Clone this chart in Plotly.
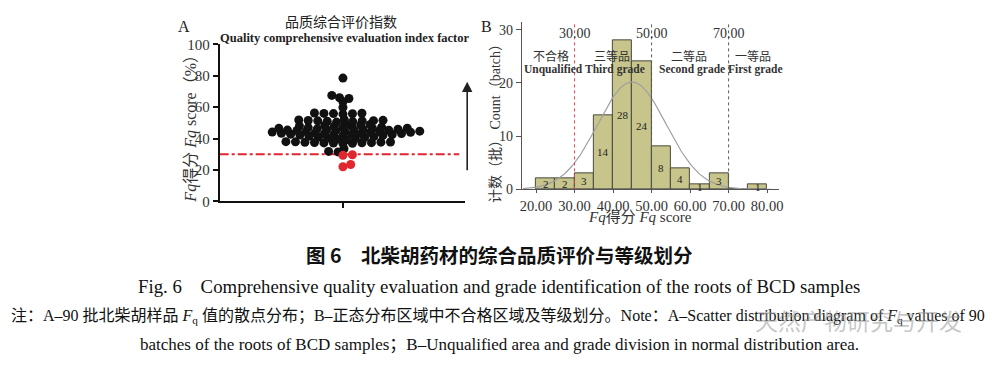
import numpy as np
import plotly.graph_objects as go

# ---------------- data ----------------
# Panel A: Fq scores of 90 batches
fq_scores = [
    22.0, 23.5, 29.3, 29.7,
    31.5, 31.8, 33.5,
    36.8, 37.0, 37.1, 37.2, 37.3, 37.4, 37.5, 37.6, 37.7, 37.8, 37.9, 38.0,
    39.2, 39.6, 40.0, 40.3, 40.6, 40.9, 41.2, 41.5, 41.8,
    42.0, 42.2, 42.4, 42.5, 42.6, 42.8, 43.0, 43.1, 43.2, 43.4, 43.6, 43.8,
    44.0, 44.1, 44.3, 44.4, 44.5, 44.7, 44.9, 45.0, 45.2, 45.3, 45.4, 45.6, 45.8,
    46.0, 46.2, 46.4, 46.5, 46.6, 46.8, 47.0, 47.2, 47.5, 47.8, 48.0, 48.3, 48.6,
    49.0, 49.3,
    50.5, 50.8, 51.0, 51.2, 51.3, 51.4, 51.5, 51.6, 51.8, 52.0,
    55.6, 55.8, 55.9, 56.0, 56.1, 56.3,
    59.8, 63.5, 65.5, 66.0, 67.5, 78.5,
]
unqualified_cutoff = 30
a_yticks = [0, 20, 40, 60, 80, 100]

# Panel B: histogram of Fq scores
bin_left = [20, 25, 30, 35, 40, 45, 50, 55, 60, 65, 70, 75]
bin_counts = [2, 2, 3, 14, 28, 24, 8, 4, 1, 3, 0, 1]
bin_width = 5
fit_mean = 44.9
fit_sd = 8.9
b_xticks = [20, 30, 40, 50, 60, 70, 80]
b_yticks = [0, 10, 20, 30]
grade_cutoffs = [30, 50, 70]
grade_cn = ["不合格", "三等品", "二等品", "一等品"]
grade_en = ["Unqualified", "Third grade", "Second grade", "First grade"]

# ---------------- helpers ----------------
W, H = 1000, 373


def px(x):
    return x / W


def py(y):
    return 1 - y / H


SERIF = "Liberation Serif, 'Noto Sans CJK SC', serif"
SANS_CJK = "'Noto Sans CJK SC', sans-serif"

# Panel A geometry (pixels)
A_left, A_right = 219, 466
A_center = 343
A_top, A_bottom = 38, 202

# Panel B geometry
B_left, B_right = 523, 782
B_top, B_bottom = 15, 189.5
b_xrange = [16.32, 83.16]
b_px_per_unit_y = 5.56
b_yrange = [0, (B_bottom - B_top) / b_px_per_unit_y]


def dot_layout(values, ppu, dx_min, dy_min):
    """Prism-like scatter dot layout: dots side by side, overlapping rows allowed."""
    vals = np.asarray(values, dtype=float)
    order = np.argsort(vals, kind="stable")
    placed = []
    xs = np.zeros(len(vals))

    def ok(c, y):
        for xj, yj in placed:
            if ((c - xj) / dx_min) ** 2 + ((y - yj) / dy_min) ** 2 < 1 - 1e-9:
                return False
        return True

    for i in order:
        y = vals[i] * ppu
        cands = [0.0]
        for xj, yj in placed:
            t = (y - yj) / dy_min
            if abs(t) < 1:
                d = dx_min * np.sqrt(1 - t * t)
                cands += [xj + d, xj - d]
        cands.sort(key=lambda c: (round(abs(c), 6), -c))
        for c in cands:
            if ok(c, y):
                xs[i] = c
                break
        placed.append((xs[i], y))
    return xs


fig = go.Figure()

# ---------------- Panel A ----------------
a_ppu = (A_bottom - A_top) / 100.0
offs = dot_layout(fq_scores, a_ppu, 9.6, 4.2)
vals = np.asarray(fq_scores)
is_red = vals < unqualified_cutoff
fig.add_trace(go.Scatter(
    x=offs[~is_red], y=vals[~is_red], mode="markers",
    marker=dict(size=9, color="#111111", line=dict(width=0)),
    xaxis="x", yaxis="y", showlegend=False, hoverinfo="y"))
fig.add_trace(go.Scatter(
    x=offs[is_red], y=vals[is_red], mode="markers",
    marker=dict(size=9, color="#e0262f", line=dict(width=0)),
    xaxis="x", yaxis="y", showlegend=False, hoverinfo="y"))

# ---------------- Panel B ----------------
centers = [l + bin_width / 2 for l in bin_left]
fig.add_trace(go.Bar(
    x=centers, y=bin_counts, width=bin_width,
    marker=dict(color="rgb(199,197,140)", line=dict(color="#4a4a40", width=1)),
    xaxis="x2", yaxis="y2", showlegend=False, hoverinfo="x+y"))

xx = np.linspace(16.6, 81.0, 300)
yy = len(fq_scores) * bin_width / (fit_sd * np.sqrt(2 * np.pi)) * np.exp(-0.5 * ((xx - fit_mean) / fit_sd) ** 2)
fig.add_trace(go.Scatter(
    x=xx, y=yy, mode="lines", line=dict(color="rgb(160,160,160)", width=1.2),
    xaxis="x2", yaxis="y2", showlegend=False, hoverinfo="skip"))

shapes = []
annotations = []


def note(**kw):
    kw.setdefault("showarrow", False)
    kw.setdefault("xanchor", "center")
    kw.setdefault("yanchor", "middle")
    annotations.append(kw)


# red dash-dot cutoff line in A
shapes.append(dict(type="line", xref="x", yref="y", x0=A_left - A_center, x1=460 - A_center,
                   y0=unqualified_cutoff, y1=unqualified_cutoff,
                   line=dict(color="#e0262f", width=2, dash="dashdot"), layer="below"))

# grade cut-off lines in B
for c in grade_cutoffs:
    col = "rgb(225,70,80)" if c == unqualified_cutoff else "rgb(90,90,90)"
    shapes.append(dict(type="line", xref="x2", yref="y2", x0=c, x1=c, y0=0, y1=b_yrange[1],
                       line=dict(color=col, width=1, dash="dot")))
    note(x=c, y=py(27), xref="x2", yref="paper", text=f"{c:.2f}",
         font=dict(family=SERIF, size=14, color="#333"))

# bar value labels
for cx, n in zip(centers, bin_counts):
    if n > 0:
        note(x=cx, y=n / 2, xref="x2", yref="y2", text=str(n),
             font=dict(family=SERIF, size=11, color="#222"))

# grade labels
bounds = [b_xrange[0] + 2] + grade_cutoffs + [b_xrange[1]]
for i in range(len(grade_cn)):
    mid = (bounds[i] + bounds[i + 1]) / 2
    note(x=mid - 0.3, y=py(50), xref="x2", yref="paper", text=grade_cn[i],
         font=dict(family=SANS_CJK, size=12, color="#333"))
    note(x=mid + 0.5, y=py(64), xref="x2", yref="paper", text=f"<b>{grade_en[i]}</b>",
         font=dict(family=SERIF, size=11.5, color="#333"))

# panel letters and titles
note(x=px(183), y=py(19), xref="paper", yref="paper", text="A",
     font=dict(family=SERIF, size=16, color="#222"))
note(x=px(487), y=py(19), xref="paper", yref="paper", text="B",
     font=dict(family=SERIF, size=16, color="#222"))
note(x=px(341), y=py(14), xref="paper", yref="paper", text="品质综合评价指数",
     font=dict(family=SANS_CJK, size=14, color="#222"))
note(x=px(345), y=py(31), xref="paper", yref="paper",
     text="<b>Quality comprehensive evaluation index factor</b>",
     font=dict(family=SERIF, size=12.5, color="#222"))
note(x=px(190), y=py(122), xref="paper", yref="paper", textangle=-90,
     text="<i>Fq</i>得分 <i>Fq</i> score（%）",
     font=dict(family=SERIF, size=16, color="#333"))
note(x=px(497), y=py(117), xref="paper", yref="paper", textangle=-90,
     text="计数（批） Count（batch）",
     font=dict(family=SERIF, size=14, color="#333"))
note(x=px(642), y=py(218), xref="paper", yref="paper",
     text="<i>Fq</i>得分 <i>Fq</i> score",
     font=dict(family=SERIF, size=15, color="#333"))
# arrow
annotations.append(dict(x=px(468), y=py(77), xref="paper", yref="paper", text="", showarrow=True,
                        ax=0, ay=90, arrowhead=2, arrowsize=1.3,
                        arrowwidth=1.6, arrowcolor="#222"))
# captions
note(x=px(500), y=py(258), xref="paper", yref="paper",
     text="<b>图 6　北柴胡药材的综合品质评价与等级划分</b>",
     font=dict(family=SANS_CJK, size=19.5, color="#111"))
note(x=px(500), y=py(291), xref="paper", yref="paper",
     text="Fig. 6　Comprehensive quality evaluation and grade identification of the roots of BCD samples",
     font=dict(family=SERIF, size=18.8, color="#111"))
note(x=px(499), y=py(322), xref="paper", yref="paper",
     text="注：A–90 批北柴胡样品 <i>F</i><sub>q</sub> 值的散点分布；B–正态分布区域中不合格区域及等级划分。"
          "Note：A–Scatter distribution diagram of <i>F</i><sub>q</sub> values of 90",
     font=dict(family=SERIF, size=16, color="#111"))
note(x=px(500), y=py(352), xref="paper", yref="paper",
     text="batches of the roots of BCD samples；B–Unqualified area and grade division in normal distribution area.",
     font=dict(family=SERIF, size=17, color="#111"))
# watermark
note(x=px(862), y=py(326), xref="paper", yref="paper", text="天然产物研究与开发",
     font=dict(family=SANS_CJK, size=23, color="rgba(150,150,150,0.55)"))

fig.update_layout(
    width=W, height=H, margin=dict(l=0, r=0, t=0, b=0),
    paper_bgcolor="white", plot_bgcolor="white",
    shapes=shapes, annotations=annotations, bargap=0,
    xaxis=dict(domain=[px(A_left), px(A_right)], range=[A_left - A_center, A_right - A_center],
               showgrid=False, zeroline=False, showline=True, linecolor="#111", linewidth=2,
               tickvals=[0], ticktext=[""], ticks="outside", ticklen=5, tickwidth=1.5, tickcolor="#111",
               fixedrange=True),
    yaxis=dict(domain=[py(A_bottom), py(A_top)], range=[0, 100], anchor="x",
               showgrid=False, zeroline=False, showline=True, linecolor="#111", linewidth=2,
               tickvals=a_yticks, ticks="outside", ticklen=5, tickwidth=2, tickcolor="#111",
               tickfont=dict(family=SERIF, size=15, color="#333"), fixedrange=True),
    xaxis2=dict(domain=[px(B_left), px(B_right)], range=b_xrange, anchor="y2",
                showgrid=False, zeroline=False, showline=True, linecolor="#555", linewidth=1,
                tickvals=b_xticks, ticktext=[f"{v:.2f}" for v in b_xticks],
                ticks="outside", ticklen=3, tickcolor="#555",
                tickfont=dict(family=SERIF, size=14.5, color="#333"), fixedrange=True),
    yaxis2=dict(domain=[py(B_bottom), py(B_top)], range=b_yrange, anchor="x2",
                showgrid=False, zeroline=False, showline=True, linecolor="#555", linewidth=1,
                tickvals=b_yticks, ticks="outside", ticklen=5, tickcolor="#555",
                tickfont=dict(family=SERIF, size=14, color="#333"), fixedrange=True),
)

# place the figure at the page's top-left corner (no default body margin), no modebar
fig.write_html("out.html", config={"displayModeBar": False},
               post_script="document.body.style.margin='0';document.body.style.overflow='hidden';")
